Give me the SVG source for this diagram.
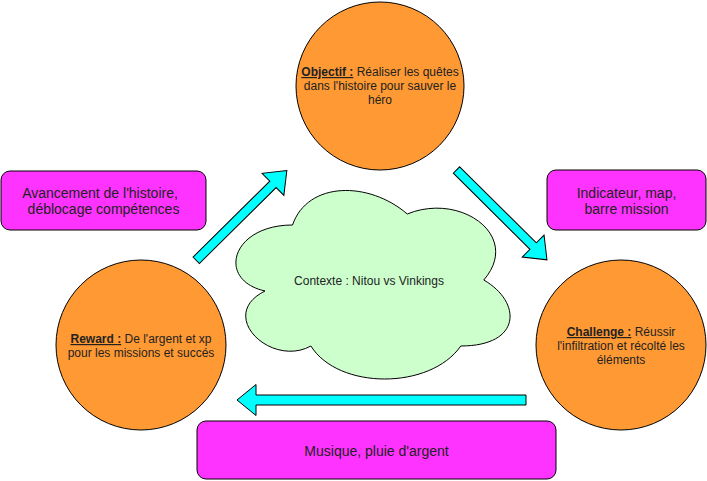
<svg xmlns="http://www.w3.org/2000/svg" xmlns:xlink="http://www.w3.org/1999/xlink" width="707" height="481" viewBox="0 0 707 481">
  <style>
    .circle { fill: #FF9933; stroke: #000000; stroke-width: 1; }
    .box { fill: #FF33FF; stroke: #000000; stroke-width: 1; }
    .cloud { fill: #CCFFCC; stroke: #000000; stroke-width: 1; }
    .arrow { fill: #00FFFF; stroke: #000000; stroke-width: 1; stroke-linejoin: miter; }
    .t12 { font-family: "Liberation Sans", Arial, sans-serif; font-size: 12px; fill: #222222; text-anchor: middle; }
    .t14 { font-family: "Liberation Sans", Arial, sans-serif; font-size: 14px; fill: #222222; text-anchor: middle; }
    .key { font-weight: bold; text-decoration: underline; }
  </style>
  <defs>
    <path id="diagArrow" d="M0,-4.5 L108,-4.5 L108,-15.5 L127.5,0 L108,15.5 L108,4.5 L0,4.5 Z"/>
  </defs>
  <rect width="707" height="481" fill="#FFFFFF"/>

  <g id="connectors">
    <use xlink:href="#diagArrow" href="#diagArrow" class="arrow" transform="translate(196.2,260.3) rotate(-44.7)"/>
    <use xlink:href="#diagArrow" href="#diagArrow" class="arrow" transform="translate(456.5,170) rotate(44.8)"/>
    <path class="arrow" transform="translate(526,400) rotate(180)" d="M0,-5 L270,-5 L270,-15.5 L289,0 L270,15.5 L270,5 L0,5 Z"/>
  </g>

  <g id="objectif">
    <circle class="circle" cx="380" cy="86" r="84"/>
    <text class="t12"><tspan x="380" y="76"><tspan class="key">Objectif :</tspan> Réaliser les quêtes</tspan><tspan x="380" y="90">dans l'histoire pour sauver le</tspan><tspan x="380" y="103.5">héro</tspan></text>
  </g>

  <g id="challenge">
    <circle class="circle" cx="621" cy="345" r="85"/>
    <text class="t12"><tspan x="621" y="336"><tspan class="key">Challenge :</tspan> Réussir</tspan><tspan x="621" y="350">l'infiltration et récolté les</tspan><tspan x="621" y="364">éléments</tspan></text>
  </g>

  <g id="reward">
    <circle class="circle" cx="141" cy="345" r="85"/>
    <text class="t12"><tspan x="141" y="343"><tspan class="key">Reward :</tspan> De l'argent et xp</tspan><tspan x="141" y="357">pour les missions et succés</tspan></text>
  </g>

  <g id="contexte">
    <path class="cloud" d="M292.5,225 C231.3,225 216,280 265,291 C216,315.2 271.1,368 310.9,346 C338.4,390 430.2,390 460.8,346 C522,346 522,302 483.75,280 C522,236 460.8,192 407.25,214 C369,181 307.8,181 292.5,225 Z"/>
    <text class="t12" x="369" y="285">Contexte : Nitou vs Vinkings</text>
  </g>

  <g id="avancement">
    <rect class="box" x="1" y="171" width="205" height="59" rx="9" ry="9"/>
    <text class="t14"><tspan x="100" y="198">Avancement de l'histoire,</tspan><tspan x="103.5" y="214">déblocage compétences</tspan></text>
  </g>

  <g id="indicateur">
    <rect class="box" x="547" y="170" width="159" height="60" rx="9" ry="9"/>
    <text class="t14"><tspan x="626.5" y="198">Indicateur, map,</tspan><tspan x="626.5" y="214">barre mission</tspan></text>
  </g>

  <g id="musique">
    <rect class="box" x="197" y="421" width="359" height="58" rx="9" ry="9"/>
    <text class="t14" x="376.5" y="455.5">Musique, pluie d'argent</text>
  </g>
</svg>
